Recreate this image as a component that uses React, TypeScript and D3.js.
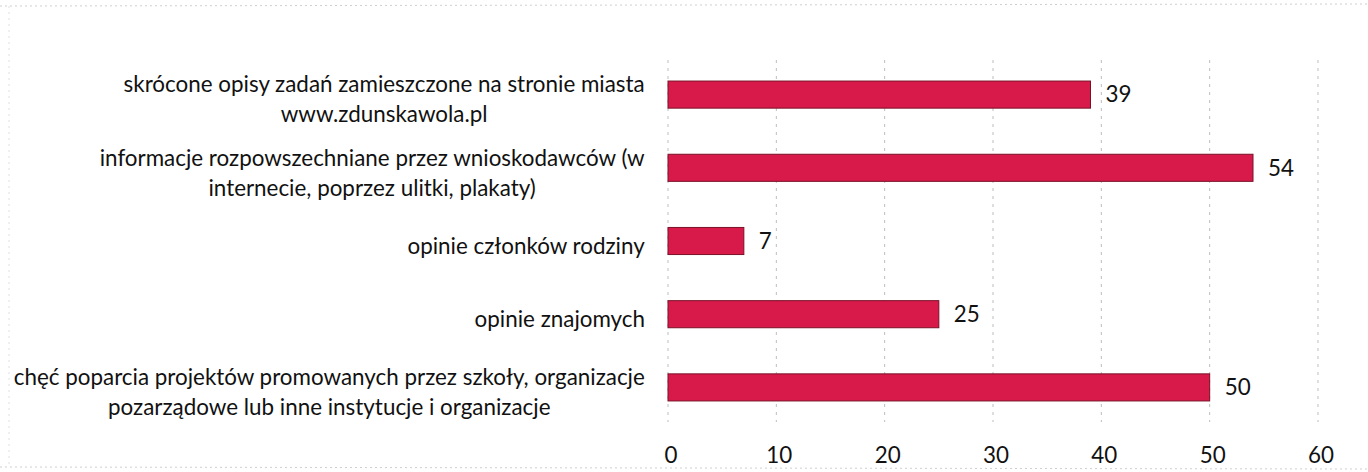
import React, { useMemo } from "react";
import * as d3 from "d3";

const categories = [
  ["skrócone opisy zadań zamieszczone na stronie miasta", "www.zdunskawola.pl"],
  ["informacje rozpowszechniane przez wnioskodawców (w", "internecie, poprzez ulitki, plakaty)"],
  ["opinie członków rodziny"],
  ["opinie znajomych"],
  ["chęć poparcia projektów promowanych przez szkoły, organizacje", "pozarządowe lub inne instytucje i organizacje"],
];
const values = [39, 54, 7, 25, 50];
const ticks = [0, 10, 20, 30, 40, 50, 60];

const W = 1368;
const H = 472;
const FONT = "Lato, 'Open Sans', sans-serif";
const FS = 22.4;

export default function App() {
  const x = d3.scaleLinear().domain([0, 60]).range([668, 1318]);
  const y = d3
    .scaleBand<number>()
    .domain(d3.range(values.length))
    .range([58, 424])
    .paddingInner(0.63)
    .paddingOuter(0.315);
  const lineH = 30;
  const labelRight = 645;

  const widths = useMemo(() => {
    const c = document.createElement("canvas").getContext("2d");
    if (!c) return categories.map(() => 500);
    c.font = `${FS}px Lato`;
    return categories.map((lines) => d3.max(lines, (l) => c.measureText(l).width) || 0);
  }, []);

  return (
    <svg
      width={W}
      height={H}
      style={{ position: "absolute", left: 0, top: 0, background: "#fff" }}
    >
      {/* faint scan frame */}
      <line x1={0} x2={W} y1={6} y2={4} stroke="#cfcfcf" strokeDasharray="2,3" />
      <line x1={0} x2={W} y1={467} y2={469} stroke="#cfcfcf" strokeDasharray="2,3" />
      <line x1={9} x2={9} y1={6} y2={467} stroke="#e0e0e0" strokeDasharray="2,4" />
      {/* gridlines */}
      {ticks.map((t) => (
        <line
          key={t}
          x1={x(t)}
          x2={x(t)}
          y1={60}
          y2={422}
          stroke="#bdbdbd"
          strokeDasharray="3,5"
        />
      ))}
      {/* bars */}
      {values.map((v, i) => (
        <rect
          key={i}
          x={x(0)}
          y={y(i)!}
          width={x(v) - x(0)}
          height={y.bandwidth()}
          fill="#d81a4b"
          stroke="#7a1026"
          strokeWidth={1}
        />
      ))}
      {/* value labels */}
      {values.map((v, i) => (
        <text
          key={i}
          x={x(v) + 15}
          y={y(i)! + y.bandwidth() / 2}
          dy="0.35em"
          fontFamily={FONT}
          fontSize={FS}
          fill="#111"
        >
          {v}
        </text>
      ))}
      {/* category labels */}
      {categories.map((lines, i) => {
        const cy = y(i)! + y.bandwidth() / 2 + 5;
        const n = lines.length;
        const cx = labelRight - widths[i] / 2;
        return (
          <text
            key={i}
            fontFamily={FONT}
            fontSize={FS}
            fill="#111"
            textAnchor="middle"
          >
            {lines.map((l, j) => (
              <tspan
                key={j}
                x={cx}
                y={cy + (j - (n - 1) / 2) * lineH}
                dy="0.35em"
              >
                {l}
              </tspan>
            ))}
          </text>
        );
      })}
      {/* axis labels */}
      {ticks.map((t) => (
        <text
          key={t}
          x={x(t) + 3}
          y={455}
          dy="0.35em"
          textAnchor="middle"
          fontFamily={FONT}
          fontSize={FS}
          fill="#111"
        >
          {t}
        </text>
      ))}
    </svg>
  );
}
